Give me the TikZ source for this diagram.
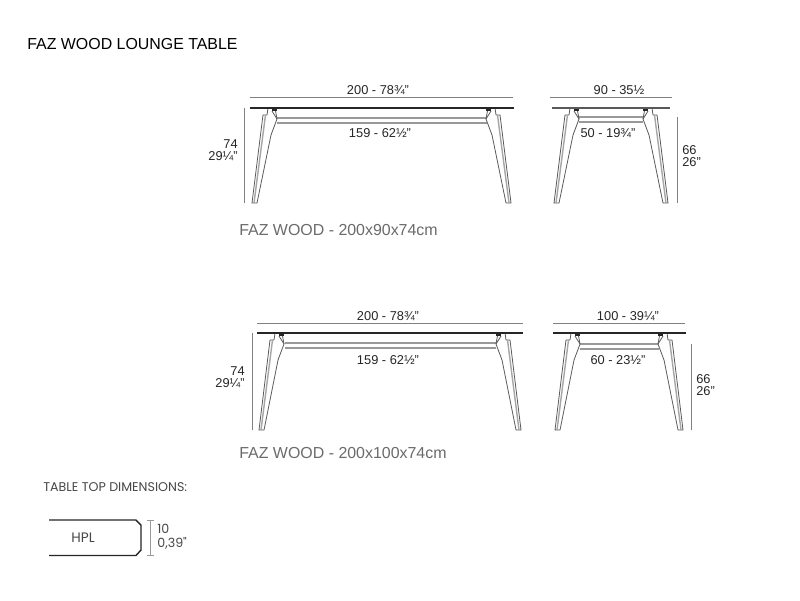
\documentclass[tikz,border=0pt]{standalone}
\usepackage{fontspec}
\setmainfont{Liberation Sans}
\newfontfamily\hplfont{Poppins}
\usetikzlibrary{positioning}
\definecolor{dimgray}{gray}{0.5}
\definecolor{capgray}{gray}{0.42}
\tikzset{
    dimtext/.style={inner sep=0pt, text=black!85, font=\fontsize{7.3}{8}\selectfont},
    captext/.style={inner sep=0pt, anchor=west, text=capgray, font=\fontsize{9.07}{10}\selectfont},
    hpltext/.style={inner sep=0pt, text=black!72, font=\hplfont\fontsize{7.2}{8}\selectfont},
    dimline/.style={draw=dimgray, line width=0.55pt},
    railline/.style={draw=black!40, line width=0.75pt},
    topline/.style={draw=black!85, line width=1.1pt},
    legline/.style={draw=black!65, line width=0.45pt, line join=round},
    profile/.style={draw=black!85, line width=0.8pt, line join=round},
}
% one leg, hung from the end of the top: #1,#2 = end of top, #3 = 1 left, -1 right, #4 = leg height
\newcommand{\tableleg}[4]{
    \begin{scope}[shift={(#1,#2)}, xscale=#3]
        \draw[legline, fill=white] (25,0) -- (27,11) -- (21,27) -- (7,#4) -- (2,#4) -- (13,7) -- (17,7) -- (18,0);
        \draw[legline, draw=black!35, line width=0.8pt] (15.5,7) -- (4,#4);
        \draw[legline] (22,3) -- (27,11);
        \fill[black!85] (22,0) rectangle (27,3);
    \end{scope}
}
\begin{document}
\begin{tikzpicture}[x=0.02cm, y=-0.02cm]
    \useasboundingbox[fill=white] (0,0) rectangle (800,600);
    \node[inner sep=0pt, anchor=west, font=\fontsize{9.06}{10}\selectfont] (title) at (27,44) {FAZ WOOD LOUNGE TABLE};

    % long view, 200x90
    \draw[dimline] (250,97) -- (513,97);
    \draw[railline] (277,118) -- (487,118);
    \draw[railline] (277,123) -- (487,123);
    \tableleg{250}{108}{1}{95}
    \tableleg{513}{108}{-1}{95}
    \draw[topline] (250,108) -- (514,108);
    \draw[dimline] (244,108) -- (244,203);
    \node[dimtext] (widthA) at (378,90) {200 - 78¾"};
    \node[dimtext] (railA) at (380,133) {159 - 62½"};
    \node[dimtext, anchor=east] (heightA) at (238,144) {74};
    \node[dimtext, anchor=east] (inchA) at (238,156) {29¼"};
    \node[captext] (capA) at (239,230) {FAZ WOOD - 200x90x74cm};

    % end view, 90
    \draw[dimline] (550,97) -- (672,97);
    \draw[railline] (579,117) -- (643,117);
    \draw[railline] (579,122) -- (643,122);
    \tableleg{552}{108}{1}{95}
    \tableleg{670}{108}{-1}{95}
    \draw[topline, draw=black!65] (552,108) -- (670,108);
    \draw[dimline] (677,117) -- (677,203);
    \node[dimtext] (widthB) at (619,90) {90 - 35½};
    \node[dimtext] (railB) at (608,133) {50 - 19¾"};
    \node[dimtext, anchor=west] (heightB) at (682,150) {66};
    \node[dimtext, anchor=west] (inchB) at (682,162) {26"};

    % long view, 200x100
    \draw[dimline] (257,323) -- (523,323);
    \draw[railline] (285,343) -- (496,343);
    \draw[railline] (285,348) -- (496,348);
    \tableleg{257}{333}{1}{97}
    \tableleg{523}{333}{-1}{97}
    \draw[topline] (257,333) -- (523,333);
    \draw[dimline] (252,333) -- (252,430);
    \node[dimtext] (widthC) at (388,316) {200 - 78¾"};
    \node[dimtext] (railC) at (388,360) {159 - 62½"};
    \node[dimtext, anchor=east] (heightC) at (245,371) {74};
    \node[dimtext, anchor=east] (inchC) at (245,383) {29¼"};
    \node[captext] (capC) at (239,453) {FAZ WOOD - 200x100x74cm};

    % end view, 100
    \draw[dimline] (553,323) -- (685,323);
    \draw[railline] (580,344) -- (659,344);
    \draw[railline] (580,349) -- (659,349);
    \tableleg{553}{333}{1}{97}
    \tableleg{685}{333}{-1}{97}
    \draw[topline] (553,333) -- (686,333);
    \draw[dimline] (691,344) -- (691,430);
    \node[dimtext] (widthD) at (628,316) {100 - 39¼"};
    \node[dimtext] (railD) at (618,360) {60 - 23½"};
    \node[dimtext, anchor=west] (heightD) at (696,379) {66};
    \node[dimtext, anchor=west] (inchD) at (696,391) {26"};

    % table top section
    \node[hpltext, anchor=west] (section) at (43,487) {TABLE TOP DIMENSIONS:};
    \draw[profile] (49,520) -- (136,520) -- (141,525) -- (141,550) -- (136,555.5) -- (49,555.5);
    \node[hpltext, font=\hplfont\fontsize{7.8}{8}\selectfont] (hpl) at (83,538) {HPL};
    \draw[dimline, draw=black!40] (150,520) -- (150,555);
    \draw[dimline, draw=black!40] (147,520) -- (154,520);
    \draw[dimline, draw=black!40] (147,555) -- (154,555);
    \node[hpltext, anchor=west] (thick) at (157,529) {10};
    \node[hpltext, anchor=west] (thickin) at (157,543) {0,39"};
\end{tikzpicture}
\end{document}
